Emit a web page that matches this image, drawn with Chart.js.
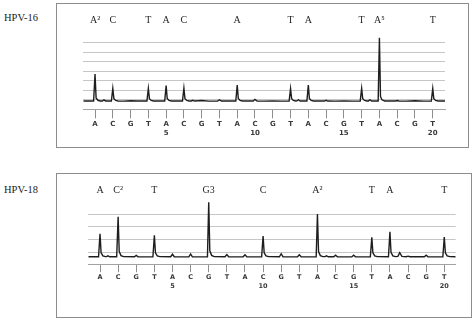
<!DOCTYPE html>
<html>
<head>
<meta charset="utf-8">
<script src="https://cdn.jsdelivr.net/npm/chart.js@4.4.1/dist/chart.umd.min.js"></script>
<style>
  body { margin: 0; background: #fff; width: 475px; height: 320px; overflow: hidden; position: relative; }
  .box { position: absolute; border: 1px solid #8c8c8c; box-sizing: border-box; }
  .name { position: absolute; left: 4px; font: 10.5px "Liberation Serif", serif; line-height: 12px; color: #222; }
  .wrap { position: absolute; left: 0; width: 475px; }
</style>
</head>
<body>
<div class="box" style="left:56px;top:3px;width:413px;height:145px"></div>
<div class="box" style="left:56px;top:173px;width:416px;height:145px"></div>
<div class="name" style="top:12px">HPV-16</div>
<div class="name" style="top:184px">HPV-18</div>
<div class="wrap" style="top:0;height:160px"><canvas id="c16"></canvas></div>
<div class="wrap" style="top:165px;height:155px"><canvas id="c18"></canvas></div>
<script>
// dispensation order, numbered every 5th
const dispensation = ["A","C","G","T","A","C","G","T","A","C","G","T","A","C","G","T","A","C","G","T"];
const tickNumbers = [5, 10, 15, 20];

// called bases written above the peaks
const hpv16Called = ["A²","C","","T","A","C","","","A","","","T","A","","","T","A⁵","","","T"];
const hpv18Called = ["A","C²","","T","","","G3","","","C","","","A²","","","T","A","","","T"];

// pyrogram traces: [position, signal]
const hpv16Trace = [
  [0.34,0.87],[0.92,0.87],[1,3.72],[1.06,1.2],[1.16,0.95],[1.3,0.88],
  [1.42,0.88],[1.5,1.0],[1.6,0.88],
  [1.92,0.87],[2,2.2],[2.06,1.12],[2.16,0.93],[2.3,0.87],
  [2.6,0.86],[3,0.9],[3.4,0.87],
  [3.92,0.87],[4,2.2],[4.06,1.12],[4.16,0.93],[4.3,0.87],
  [4.92,0.87],[5,2.5],[5.06,1.15],[5.16,0.93],[5.3,0.87],
  [5.92,0.87],[6,2.23],[6.06,1.12],[6.16,0.93],[6.3,0.87],
  [6.42,0.88],[6.5,0.95],[6.6,0.87],[7,0.92],[7.4,0.86],
  [7.9,0.87],[8,1.0],[8.12,0.87],
  [8.92,0.87],[9,2.56],[9.06,1.15],[9.16,0.93],[9.3,0.87],
  [9.9,0.87],[10,1.05],[10.12,0.88],
  [10.5,0.86],[11,0.89],[11.5,0.86],
  [11.92,0.87],[12,2.17],[12.06,1.12],[12.16,0.93],[12.3,0.87],
  [12.36,0.88],[12.44,1.0],[12.54,0.87],
  [12.92,0.87],[13,2.56],[13.06,1.15],[13.16,0.93],[13.3,0.87],
  [13.9,0.87],[14,0.95],[14.1,0.87],
  [14.5,0.86],[15,0.89],[15.5,0.86],
  [15.92,0.87],[16,2.2],[16.06,1.12],[16.16,0.93],[16.3,0.87],
  [16.38,0.88],[16.47,1.0],[16.56,0.87],
  [16.93,0.87],[17,7.54],[17.06,1.35],[17.14,1.0],[17.3,0.88],
  [17.9,0.87],[18,0.93],[18.1,0.87],
  [18.5,0.86],[19,0.9],[19.5,0.86],
  [19.92,0.87],[20,2.17],[20.06,1.12],[20.16,0.93],[20.3,0.87],
  [20.69,0.87]
];

const hpv18Trace = [
  [0.354,0.63],[0.92,0.63],[1,2.46],[1.06,0.95],[1.16,0.7],[1.3,0.64],
  [1.36,0.64],[1.44,0.7],[1.54,0.63],
  [1.92,0.63],[2,3.81],[2.06,1.05],[2.16,0.72],[2.3,0.64],
  [2.9,0.63],[3,0.74],[3.1,0.63],[3.5,0.62],
  [3.92,0.63],[4,2.33],[4.06,0.95],[4.16,0.7],[4.3,0.64],
  [4.9,0.63],[5,0.83],[5.1,0.63],[5.5,0.62],
  [5.9,0.63],[6,0.85],[6.1,0.63],[6.5,0.62],
  [6.93,0.63],[7,4.95],[7.06,1.1],[7.16,0.74],[7.3,0.64],
  [7.9,0.63],[8,0.8],[8.1,0.63],[8.5,0.62],
  [8.9,0.63],[9,0.78],[9.1,0.63],[9.5,0.62],
  [9.92,0.63],[10,2.28],[10.06,0.95],[10.16,0.7],[10.3,0.64],
  [10.9,0.63],[11,0.87],[11.1,0.63],[11.5,0.62],
  [11.9,0.63],[12,0.78],[12.1,0.63],[12.5,0.62],
  [12.93,0.63],[13,4.02],[13.06,1.05],[13.16,0.72],[13.3,0.64],
  [13.42,0.64],[13.5,0.7],[13.6,0.63],
  [13.9,0.63],[14,0.75],[14.1,0.63],[14.5,0.62],
  [14.9,0.63],[15,0.75],[15.1,0.63],[15.5,0.62],
  [15.92,0.63],[16,2.17],[16.06,0.95],[16.16,0.7],[16.3,0.64],
  [16.92,0.63],[17,2.62],[17.06,0.98],[17.16,0.7],[17.3,0.64],
  [17.44,0.66],[17.54,0.95],[17.66,0.66],
  [17.9,0.63],[18,0.68],[18.1,0.63],
  [18.9,0.63],[19,0.75],[19.1,0.63],[19.5,0.62],
  [19.92,0.63],[20,2.2],[20.06,0.95],[20.16,0.7],[20.3,0.64],
  [20.63,0.63]
];

const positions = dispensation.map((b, i) => i + 1);

function bottomLabel(v) {
  const base = dispensation[v - 1];
  return tickNumbers.includes(v) ? [base, String(v)] : base;
}

function makeChart(id, trace, called, g) {
  const setTicks = scale => { scale.ticks = positions.map(v => ({ value: v })); };
  return new Chart(document.getElementById(id), {
    type: "line",
    data: {
      datasets: [{
        data: trace.map(p => ({ x: p[0], y: p[1] })),
        borderColor: "#1e1e1e",
        borderWidth: 1.4,
        pointRadius: 0,
        tension: 0,
        fill: false
      }]
    },
    options: {
      responsive: true,
      maintainAspectRatio: false,
      animation: false,
      layout: { padding: { left: g.padLeft, right: g.padRight, top: 0, bottom: 0 } },
      plugins: { legend: { display: false }, tooltip: { enabled: false } },
      scales: {
        x: {
          type: "linear",
          position: "bottom",
          min: g.xMin,
          max: g.xMax,
          afterBuildTicks: setTicks,
          afterFit: s => { s.height = g.axisH; },
          grid: { drawOnChartArea: false, tickLength: g.tickLen, tickColor: "#8e8e8e" },
          border: { color: "#a2a2a2", width: 1 },
          ticks: {
            autoSkip: false,
            maxRotation: 0,
            padding: g.tickPad,
            color: "#3a3a3a",
            font: { family: "DejaVu Sans", weight: "bold", size: g.fontSize, lineHeight: g.lineH },
            callback: v => bottomLabel(v)
          }
        },
        xTop: {
          type: "linear",
          position: "top",
          min: g.xMin,
          max: g.xMax,
          afterBuildTicks: setTicks,
          afterFit: s => { s.height = g.chartTop; },
          grid: { display: false, drawTicks: false },
          border: { display: false },
          ticks: {
            autoSkip: false,
            maxRotation: 0,
            padding: g.topPad,
            color: "#262626",
            font: { family: "Liberation Serif", size: 10, lineHeight: 1.2 },
            callback: v => called[v - 1]
          }
        },
        y: {
          min: 0,
          max: g.yMax,
          afterFit: s => { s.width = 0; },
          ticks: { display: false, stepSize: 1 },
          border: { display: false },
          grid: {
            drawTicks: false,
            color: c => (c.tick.value >= 1 && c.tick.value <= g.gridMax) ? "#c6c6c6" : "rgba(0,0,0,0)"
          }
        }
      }
    }
  });
}

makeChart("c16", hpv16Trace, hpv16Called, {
  xMin: 0.34, xMax: 20.69, yMax: 8, gridMax: 7,
  padLeft: 83.3, padRight: 30, chartTop: 33.3, axisH: 50.7,
  tickLen: 9, tickPad: 1.35, fontSize: 7, lineH: "9.1px", topPad: 6.8
});

makeChart("c18", hpv18Trace, hpv18Called, {
  xMin: 0.354, xMax: 20.63, yMax: 5.2, gridMax: 4,
  padLeft: 88.3, padRight: 19.3, chartTop: 34.2, axisH: 55.3,
  tickLen: 7.5, tickPad: 1.3, fontSize: 6.5, lineH: "8.4px", topPad: 3.2
});
</script>
</body>
</html>
